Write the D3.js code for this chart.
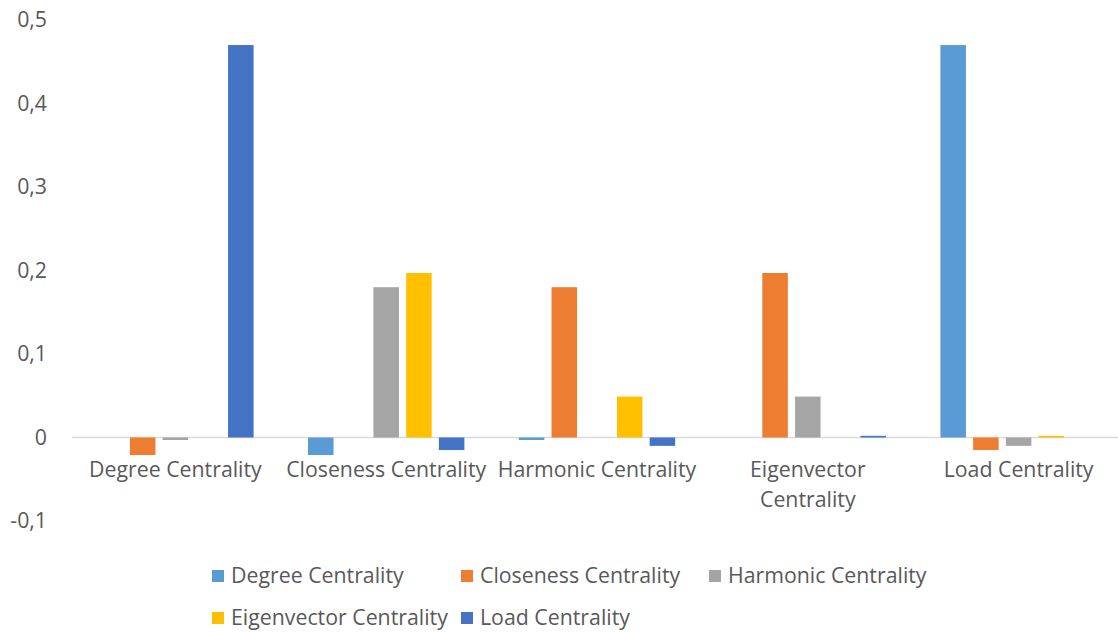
<!DOCTYPE html>
<html>
<head>
<meta charset="utf-8">
<script src="https://cdn.jsdelivr.net/npm/d3@7"></script>
<style>
  html, body { margin: 0; padding: 0; background: #fff; }
  svg { display: block; }
  text { font-family: "Open Sans", "DejaVu Sans", sans-serif; fill: #595959; }
</style>
</head>
<body>
<svg id="chart" width="1118" height="632"></svg>
<script>
// Correlation between centrality measures, one row per series
const categories = ["Degree Centrality", "Closeness Centrality", "Harmonic Centrality", "Eigenvector Centrality", "Load Centrality"];
const seriesNames = ["Degree Centrality", "Closeness Centrality", "Harmonic Centrality", "Eigenvector Centrality", "Load Centrality"];
const degreeValues      = [0,      -0.021, -0.003, 0,     0.47];
const closenessValues   = [-0.021, 0,      0.18,   0.197, -0.015];
const harmonicValues    = [-0.003, 0.18,   0,      0.049, -0.01];
const eigenvectorValues = [0,      0.197,  0.049,  0,     0.002];
const loadValues        = [0.47,   -0.015, -0.01,  0.002, 0];
const yTicks = [-0.1, 0, 0.1, 0.2, 0.3, 0.4, 0.5];
const colors = ["#5B9BD5", "#ED7D31", "#A5A5A5", "#FFC000", "#4472C4"];

const seriesValues = [degreeValues, closenessValues, harmonicValues, eigenvectorValues, loadValues];

const svg = d3.select("#chart");
const fontSize = 21.3;

const x0 = d3.scaleBand().domain(categories).range([70, 1124]).padding(0);
const x1 = d3.scaleBand().domain(seriesNames).range([0, x0.bandwidth()])
  .paddingInner(0.22).paddingOuter(0.832);
const y = d3.scaleLinear().domain([-0.1, 0.5]).range([521, 20]);

// y tick labels (decimal comma)
const fmt = v => (v === 0 ? "0" : d3.format(".1f")(v).replace(".", ",").replace("−", "-"));
svg.append("g").selectAll("text").data(yTicks).join("text")
  .attr("x", 47).attr("y", d => y(d)).attr("dy", "0.35em")
  .attr("text-anchor", "end").style("font-size", fontSize + "px")
  .text(fmt);

// zero baseline
svg.append("line")
  .attr("x1", 72).attr("x2", 1118)
  .attr("y1", y(0)).attr("y2", y(0))
  .attr("stroke", "#d9d9d9").attr("stroke-width", 1.3);

// bars
const groups = svg.append("g").selectAll("g").data(categories).join("g")
  .attr("transform", d => `translate(${x0(d)},0)`);
groups.selectAll("rect")
  .data((c, ci) => seriesNames.map((s, si) => ({ s, si, v: seriesValues[si][ci] })))
  .join("rect")
  .filter(d => d.v !== 0)
  .attr("x", d => x1(d.s))
  .attr("width", x1.bandwidth())
  .attr("y", d => y(Math.max(0, d.v)))
  .attr("height", d => Math.abs(y(d.v) - y(0)))
  .attr("fill", d => colors[d.si]);

// category labels, wrapped when wider than the band
const labelLines = {
  "Eigenvector Centrality": ["Eigenvector", "Centrality"]
};
const catG = svg.append("g");
categories.forEach(c => {
  const lines = labelLines[c] || [c];
  const cx = x0(c) + x0.bandwidth() / 2;
  const t = catG.append("text")
    .attr("text-anchor", "middle").style("font-size", fontSize + "px")
    .attr("x", cx).attr("y", 470);
  lines.forEach((ln, i) => {
    t.append("tspan").attr("x", cx)
      .attr("dy", i === 0 ? "0.35em" : "1.41em").text(ln);
  });
});

// legend
const legendPos = [
  { x: 212, y: 576 }, { x: 461, y: 576 }, { x: 709, y: 576 },
  { x: 212, y: 618 }, { x: 461, y: 618 }
];
const leg = svg.append("g");
seriesNames.forEach((s, i) => {
  const p = legendPos[i];
  leg.append("rect").attr("x", p.x).attr("y", p.y - 6).attr("width", 12).attr("height", 12)
    .attr("fill", colors[i]);
  leg.append("text").attr("x", p.x + 19).attr("y", p.y).attr("dy", "0.35em")
    .style("font-size", fontSize + "px").text(s);
});
</script>
</body>
</html>
